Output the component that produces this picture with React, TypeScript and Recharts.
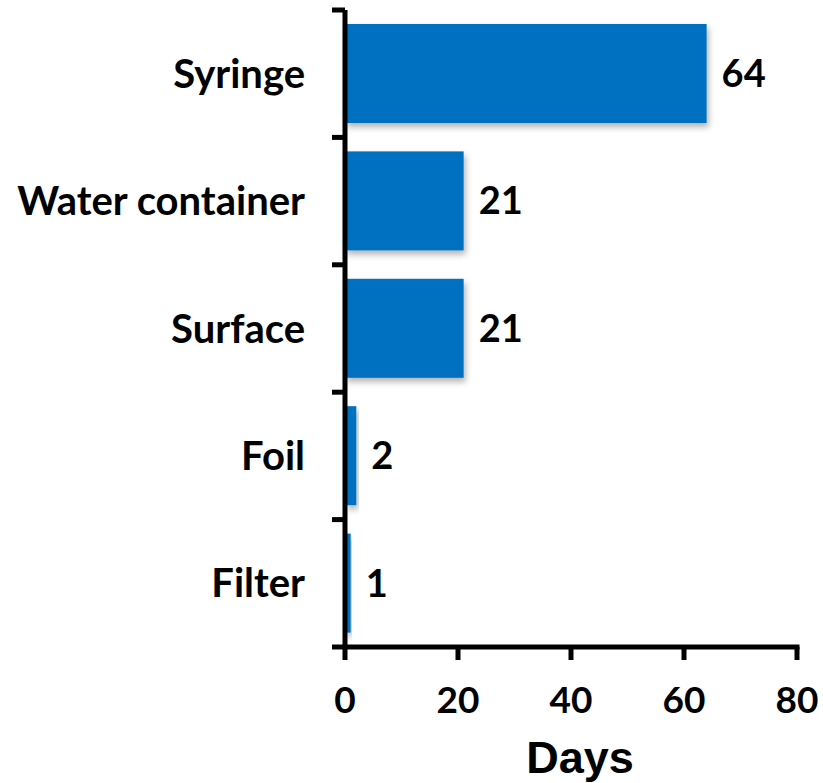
import { BarChart, Bar, XAxis, YAxis, LabelList } from 'recharts'

const categories = ['Syringe', 'Water container', 'Surface', 'Foil', 'Filter']
const days = [64, 21, 21, 2, 1]
const xTicks = [0, 20, 40, 60, 80]

const data = categories.map((name, i) => ({ name, days: days[i] }))

const labelFont = 'Lato, "Noto Sans", sans-serif'

const ShadowBar = (props: any) => {
  const { x, y, width, height, fill } = props
  if (!width || width <= 0) return null
  return <rect x={x} y={y} width={width} height={height} fill={fill} filter="url(#barShadow)" />
}

// category label plus tick marks on the band edges (not the band centre)
const CategoryTick = (props: any) => {
  const { x, y, payload, index } = props
  const half = payload?.offset ?? 0
  const last = index === categories.length - 1
  return (
    <g>
      <line x1={x - 13} x2={x} y1={y - half} y2={y - half} stroke="#000" strokeWidth={5} />
      {last && <line x1={x - 13} x2={x} y1={y + half} y2={y + half} stroke="#000" strokeWidth={5} />}
      <text
        x={x - 40}
        y={y}
        dy="0.35em"
        textAnchor="end"
        fill="#000"
        fontSize={40}
        fontWeight="bold"
        fontFamily={labelFont}
      >
        {payload.value}
      </text>
    </g>
  )
}

const DaysLabel = (props: any) => {
  const { viewBox } = props
  const vb = viewBox || { x: 0, y: 0, width: 0, height: 0 }
  return (
    <text
      x={vb.x + vb.width / 2 + 9}
      y={vb.y + vb.height - 10}
      textAnchor="middle"
      fontFamily='"Liberation Sans", Arial, sans-serif'
      fontWeight="bold"
      fontSize={45}
      fill="#000"
    >
      Days
    </text>
  )
}

export default function App() {
  return (
    <div style={{ position: 'absolute', left: 0, top: 0, background: '#fff' }}>
      <svg width={0} height={0} style={{ position: 'absolute' }}>
        <defs>
          <filter id="barShadow" x="-10%" y="-10%" width="130%" height="140%">
            <feDropShadow dx="2" dy="4" stdDeviation="3" floodColor="#000" floodOpacity="0.3" />
          </filter>
        </defs>
      </svg>
      <BarChart
        layout="vertical"
        width={823}
        height={783}
        data={data}
        margin={{ top: 10, right: 26, bottom: 0, left: 0 }}
        barSize={99}
      >
        <XAxis
          type="number"
          domain={[0, 80]}
          ticks={xTicks}
          interval={0}
          height={136}
          tickSize={13}
          tickMargin={27}
          axisLine={{ stroke: '#000', strokeWidth: 5, strokeLinecap: 'square' }}
          tickLine={{ stroke: '#000', strokeWidth: 5 }}
          tick={{ fill: '#000', fontSize: 37, fontWeight: 'bold', fontFamily: labelFont }}
          label={<DaysLabel />}
        />
        <YAxis
          type="category"
          dataKey="name"
          width={345}
          interval={0}
          tickSize={0}
          tickMargin={0}
          tickLine={false}
          axisLine={{ stroke: '#000', strokeWidth: 5 }}
          tick={<CategoryTick />}
        />
        <Bar dataKey="days" fill="#0070C0" isAnimationActive={false} shape={<ShadowBar />}>
          <LabelList
            dataKey="days"
            position="right"
            offset={15}
            fill="#000"
            fontSize={38}
            fontWeight="bold"
            fontFamily={labelFont}
          />
        </Bar>
      </BarChart>
    </div>
  )
}
